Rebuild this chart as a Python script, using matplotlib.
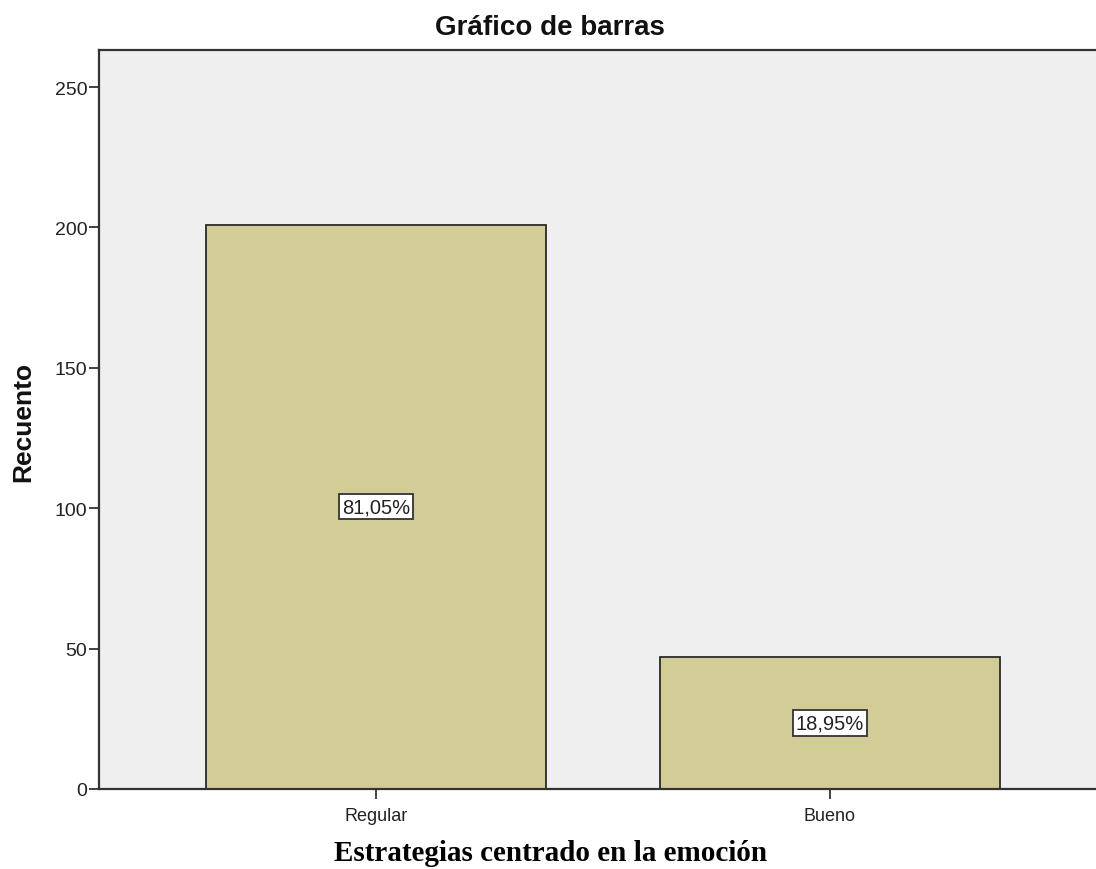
import matplotlib.pyplot as plt
import numpy as np

# frecuencias por categoria
categorias = ['Regular', 'Bueno']
recuento = [201, 47]
yticks = [0, 50, 100, 150, 200, 250]

total = sum(recuento)
porcentajes = [100.0 * r / total for r in recuento]

plt.rcParams['font.family'] = ['Liberation Sans', 'DejaVu Sans']

fig = plt.figure(figsize=(10.96, 8.70), dpi=100)
ax = fig.add_axes([0.0903, 0.0920, 0.9097, 0.8494])
ax.set_facecolor('#efefef')

x = np.arange(len(categorias))
ax.bar(x, recuento, width=0.749, color='#d2cd96', edgecolor='#2a2a2a', linewidth=1.3)

# etiquetas de porcentaje en el centro de cada barra
for xi, r, p in zip(x, recuento, porcentajes):
    txt = ('%.2f%%' % p).replace('.', ',')
    ax.text(xi, r / 2.0, txt, ha='center', va='center', fontsize=14.5, color='#222222',
            bbox=dict(boxstyle='square,pad=0.15', facecolor='white', edgecolor='#333333', linewidth=1.3))

ax.set_xlim(-0.610, 1.586)
ax.set_ylim(0, 263.2)
ax.set_xticks(x)
ax.set_xticklabels(categorias, fontsize=13, color='#222222')
ax.set_yticks(yticks)
ax.set_yticklabels([str(v) for v in yticks], fontsize=14, color='#222222')
ax.tick_params(axis='both', direction='out', length=7, width=1.3, color='#333333')
ax.tick_params(axis='y', pad=1.5)
ax.tick_params(axis='x', pad=6)

for s in ['left', 'bottom', 'top']:
    ax.spines[s].set_color('#333333')
    ax.spines[s].set_linewidth(1.6)
ax.spines['right'].set_visible(False)

fig.text(0.502, 0.968, 'Gráfico de barras', ha='center', va='center', fontsize=20, fontweight='bold', color='#111111')
fig.text(0.021, 0.515, 'Recuento', rotation=90, ha='center', va='center', fontsize=19, fontweight='bold', color='#111111')
fig.text(0.502, 0.019, 'Estrategias centrado en la emoción', ha='center', va='center', fontsize=21,
         fontweight='bold', family=['Liberation Serif', 'DejaVu Serif'], color='black')

fig.savefig('out.png', dpi=100)
